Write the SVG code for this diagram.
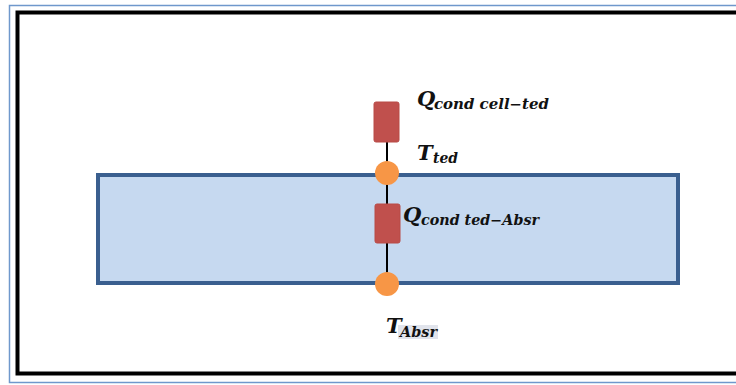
<svg xmlns="http://www.w3.org/2000/svg" width="736" height="385" viewBox="0 0 736 385">
<style>
.main{font-family:"DejaVu Serif","Liberation Serif",serif;font-weight:bold;font-style:italic;font-size:21px;fill:#111}
.sub{font-family:"DejaVu Serif","Liberation Serif",serif;font-weight:bold;font-style:italic;font-size:14px;fill:#111}
.res{fill:#C0504D;stroke:#B84A47;stroke-width:1}
.node{fill:#F79646}
.wire{stroke:#000;stroke-width:2}
</style>
<rect x="0" y="0" width="736" height="385" fill="#fff"/>
<rect x="9.5" y="5.5" width="740" height="377" fill="none" stroke="#6F98CC" stroke-width="1.5"/>
<rect x="17.5" y="12.5" width="740" height="361" fill="none" stroke="#000" stroke-width="4"/>
<g id="absorber">
<rect x="98" y="175" width="580" height="108" fill="#C6D9F0" stroke="#3A5F8F" stroke-width="4"/>
</g>
<rect x="400" y="168" width="77" height="5" fill="#fff"/>
<g id="connectors">
<line class="wire" x1="387" y1="140" x2="387" y2="284"/>
</g>
<g id="R1"><rect class="res" x="374" y="102" width="25" height="40" rx="2"/></g>
<g id="R2"><rect class="res" x="375" y="204" width="25" height="39" rx="2"/></g>
<g id="Tted-node"><circle class="node" cx="387" cy="173" r="12"/></g>
<g id="TAbsr-node"><circle class="node" cx="387" cy="284" r="12"/></g>
<g id="label-q1"><text class="main" x="417" y="106">Q</text><text class="sub" x="434" y="109" textLength="115" lengthAdjust="spacingAndGlyphs">cond cell−ted</text></g>
<g id="label-tted"><text class="main" x="417" y="160">T</text><text class="sub" x="433" y="163" textLength="25" lengthAdjust="spacingAndGlyphs">ted</text></g>
<g id="label-q2"><text class="main" x="403" y="222">Q</text><text class="sub" x="421" y="225" textLength="118" lengthAdjust="spacingAndGlyphs">cond ted−Absr</text></g>
<g id="label-tabsr"><rect x="398" y="325" width="40" height="14" fill="#E1E4EC"/><text class="main" x="386" y="333">T</text><text class="sub" x="400" y="337" textLength="37" lengthAdjust="spacingAndGlyphs">Absr</text></g>
</svg>
